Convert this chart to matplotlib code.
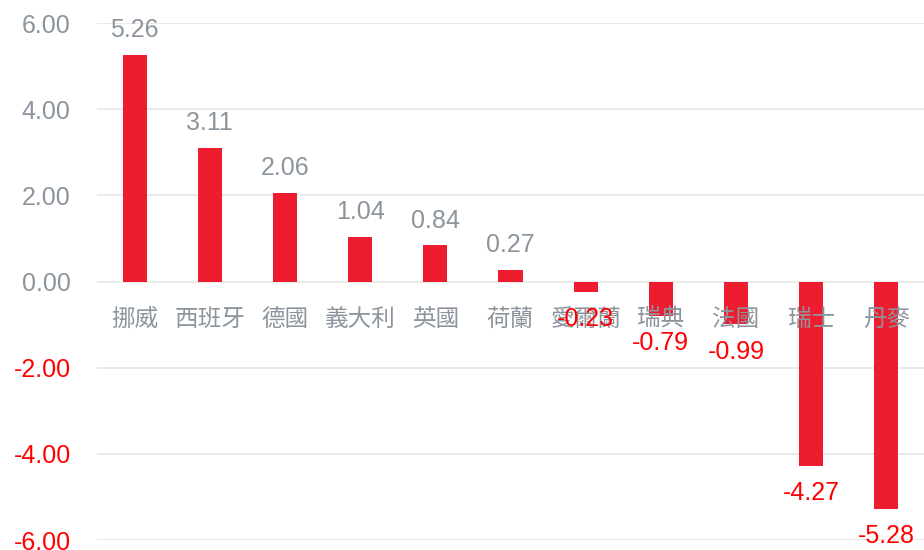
import matplotlib.pyplot as plt
import numpy as np

countries = ['挪威', '西班牙', '德國', '義大利', '英國', '荷蘭', '愛爾蘭', '瑞典', '法國', '瑞士', '丹麥']
values = [5.26, 3.11, 2.06, 1.04, 0.84, 0.27, -0.23, -0.79, -0.99, -4.27, -5.28]
yticks = [-6, -4, -2, 0, 2, 4, 6]

bar_color = '#ED1C2E'
gray = '#8C959D'
neg_color = '#FF0000'

plt.rcParams['font.family'] = ['Liberation Sans', 'Noto Sans CJK TC']

fig = plt.figure(figsize=(9.24, 5.5), dpi=100)
ax = fig.add_axes([0.105, 0.018, 0.895, 0.940])

x = np.arange(len(countries))
ax.bar(x, values, width=0.32, color=bar_color, zorder=2)

ax.set_xlim(-0.5, len(countries) - 0.5)
ax.set_ylim(-6, 6)
ax.set_yticks(yticks)
ax.set_yticklabels(['{:.2f}'.format(v) for v in yticks], fontsize=18)
for lbl, v in zip(ax.get_yticklabels(), yticks):
    lbl.set_color(neg_color if v < 0 else gray)
ax.tick_params(axis='y', length=0, pad=19)
ax.set_xticks([])
for s in ax.spines.values():
    s.set_visible(False)
ax.yaxis.grid(True, color='#E6E6E6', linewidth=1.2, zorder=0)
ax.set_axisbelow(True)

# category names sit just under the zero line
for xi, name in zip(x, countries):
    ax.text(xi, -0.87, name, ha='center', va='center', fontsize=17,
            color=gray, family=['Noto Sans CJK TC'], zorder=3)

for xi, v in zip(x, values):
    if v >= 0:
        ax.annotate('{:.2f}'.format(v), (xi, v), xytext=(0, 9), textcoords='offset points',
                    ha='center', va='bottom', fontsize=18, color=gray, zorder=4)
    else:
        ax.annotate('{:.2f}'.format(v), (xi, v), xytext=(0, -11), textcoords='offset points',
                    ha='center', va='top', fontsize=18, color=neg_color, zorder=4,
                    annotation_clip=False)

fig.savefig('out.png', dpi=100)
